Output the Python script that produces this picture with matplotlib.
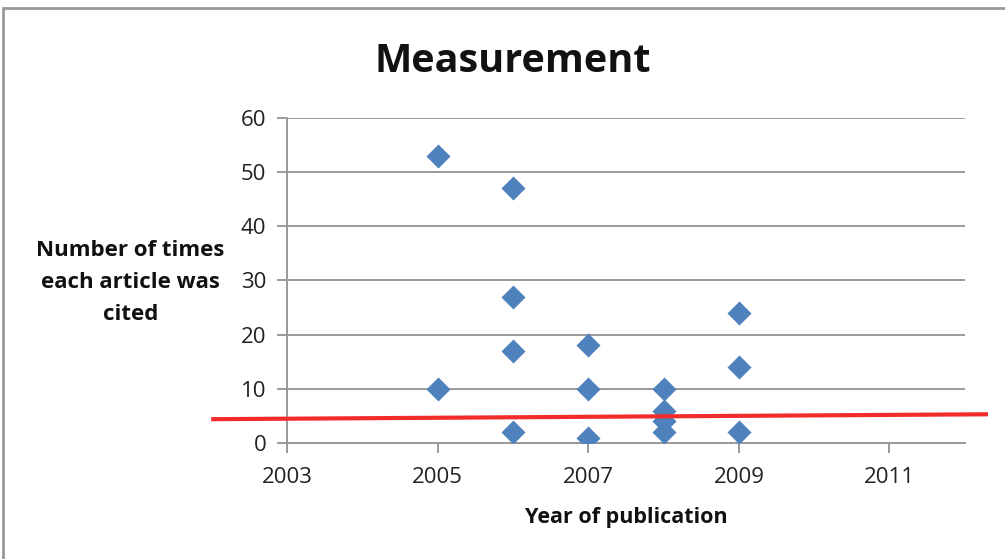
import matplotlib.pyplot as plt
from matplotlib.patches import Rectangle

# citation counts per article, by year of publication
years = [2005, 2005, 2006, 2006, 2006, 2006, 2007, 2007, 2007,
         2008, 2008, 2008, 2008, 2009, 2009, 2009]
citations = [53, 10, 47, 27, 17, 2, 18, 10, 1,
             10, 6, 4, 2, 24, 14, 2]

# hand-drawn red threshold line (endpoints in data units)
line_x = [2002.02, 2012.28]
line_y = [4.4, 5.3]

x_ticks = [2003, 2005, 2007, 2009, 2011]
y_ticks = [0, 10, 20, 30, 40, 50, 60]

plt.rcParams['font.family'] = ['Open Sans', 'DejaVu Sans']

fig = plt.figure(figsize=(10.05, 5.59), dpi=100)
ax = fig.add_axes([0.2856, 0.2075, 0.6744, 0.5815])

grid_col = '#9a9a9a'
ax.set_axisbelow(True)
ax.yaxis.grid(True, color=grid_col, linewidth=1.4)

ax.scatter(years, citations, marker='D', s=150, color='#4f81bd', zorder=3,
           linewidths=0)
ax.plot(line_x, line_y, color='#f22b2b', linewidth=3, clip_on=False, zorder=4)

ax.set_xlim(2003, 2012)
ax.set_ylim(0, 60)
ax.set_xticks(x_ticks)
ax.set_yticks(y_ticks)
ax.tick_params(axis='both', colors=grid_col, labelcolor='#222222',
               labelsize=16, length=7, width=1.4)
ax.tick_params(axis='x', pad=10)
ax.tick_params(axis='y', pad=8)

for side in ['top', 'right']:
    ax.spines[side].set_visible(False)
for side in ['left', 'bottom']:
    ax.spines[side].set_color(grid_col)
    ax.spines[side].set_linewidth(1.4)

ax.set_xlabel('Year of publication', fontsize=15.5, fontweight='bold',
              labelpad=14, color='#111111')
fig.text(0.130, 0.495, 'Number of times\neach article was\ncited',
         fontsize=16, fontweight='bold', ha='center', va='center',
         linespacing=1.68, color='#111111')
fig.text(0.51, 0.89, 'Measurement', fontsize=28.5, fontweight='bold',
         ha='center', va='center', color='#111111')

# chart border (only top and left edges fall inside the image)
fig.patches.append(Rectangle((3 / 1005, -0.1), 1.2, 1 - 8 / 559 + 0.1,
                             transform=fig.transFigure, fill=False,
                             edgecolor='#999999', linewidth=2))

fig.savefig('out.png', dpi=100)
